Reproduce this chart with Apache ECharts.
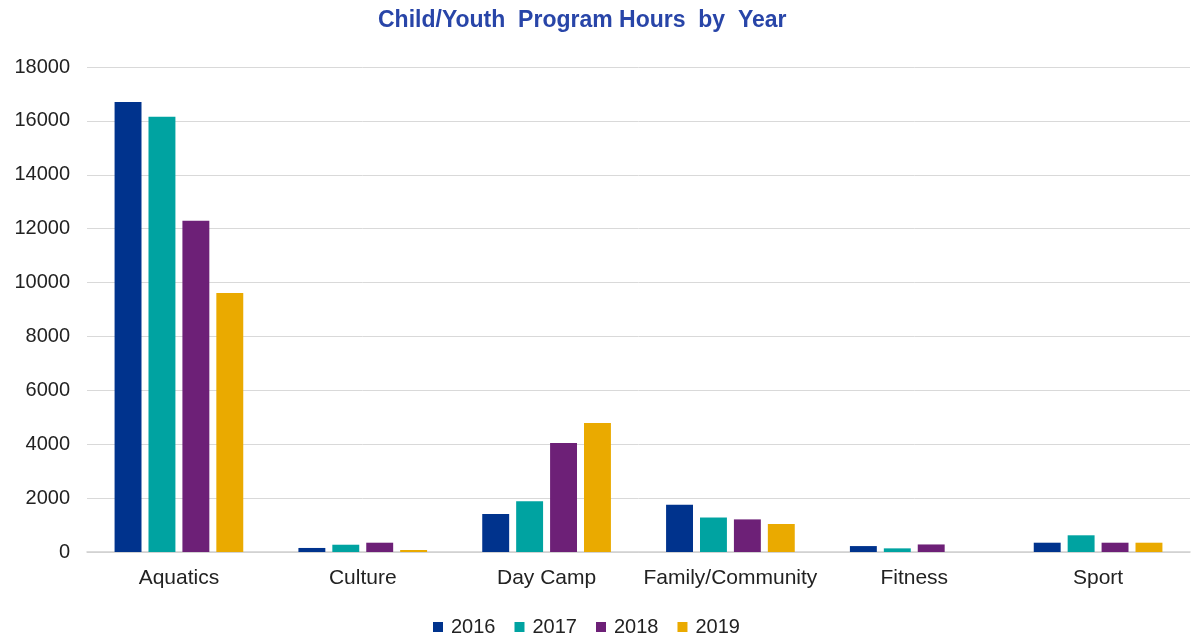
<!DOCTYPE html>
<html><head><meta charset="utf-8">
<script src="https://cdn.jsdelivr.net/npm/echarts@6/dist/echarts.min.js"></script>
<style>html,body{margin:0;padding:0;background:#fff}#c{width:1201px;height:643px}</style>
</head><body><div id="c"></div>
<script>
const categories = ['Aquatics','Culture','Day Camp','Family/Community','Fitness','Sport'];
const years = ['2016','2017','2018','2019'];
const v2016 = [16700, 150, 1410, 1750, 220, 345];
const v2017 = [16150, 270, 1880, 1280, 135, 620];
const v2018 = [12290, 345, 4050, 1210, 280, 345];
const v2019 = [9610, 75, 4790, 1040, 0, 345];
const colors = ['#00338d','#00a3a1','#6d2077','#eaaa00'];
const yTicks = {min:0, max:18000, interval:2000};

const chart = echarts.init(document.getElementById('c'));
const values = [v2016, v2017, v2018, v2019];
chart.setOption({
  animation:false,
  color: colors,
  textStyle:{fontFamily:'Liberation Sans, Arial, sans-serif'},
  title:{text:'Child/Youth  Program Hours  by  Year', left:373, top:4,
    textStyle:{fontSize:23, fontWeight:'bold', color:'#2845a8', fontFamily:'Liberation Sans, Arial, sans-serif'}},
  legend:{bottom:1, left:428, itemWidth:10, itemHeight:10, itemGap:19, icon:'rect',
    textStyle:{fontSize:20, color:'#222', padding:[0,0,0,3]}, data:years},
  grid:{left:87, right:11, top:67, bottom:91},
  xAxis:{type:'category', data:categories,
    axisLine:{lineStyle:{color:'#d0d0d0', width:1.5}}, axisTick:{show:false},
    axisLabel:{fontSize:21, color:'#222', margin:16, interval:0}},
  yAxis:{type:'value', min:yTicks.min, max:yTicks.max, interval:yTicks.interval,
    axisLine:{show:false}, axisTick:{show:false},
    axisLabel:{fontSize:20, color:'#222', margin:17, formatter:(v)=>String(v)},
    splitLine:{lineStyle:{color:'#d9d9d9', width:1}}},
  series: years.map((y,i)=>({name:y, type:'bar', data:values[i], barGap:'26%', barCategoryGap:'30%'}))
});
</script></body></html>
